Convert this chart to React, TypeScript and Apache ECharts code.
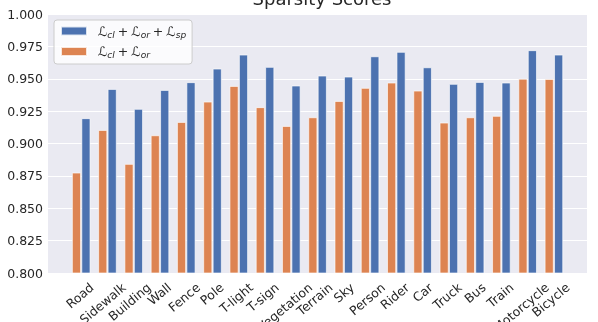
import React, { useEffect, useRef } from 'react';
import * as echarts from 'echarts';

const categories = ['Road', 'Sidewalk', 'Building', 'Wall', 'Fence', 'Pole', 'T-light', 'T-sign', 'Vegetation', 'Terrain', 'Sky', 'Person', 'Rider', 'Car', 'Truck', 'Bus', 'Train', 'Motorcycle', 'Bicycle'];
const withSp = [0.9195, 0.9421, 0.9267, 0.9413, 0.9473, 0.9578, 0.9686, 0.9591, 0.9447, 0.9524, 0.9516, 0.9673, 0.9707, 0.9588, 0.946, 0.9475, 0.947, 0.972, 0.9686];
const withoutSp = [0.8775, 0.9104, 0.8842, 0.9063, 0.9166, 0.9323, 0.9444, 0.928, 0.9135, 0.9202, 0.9328, 0.9429, 0.947, 0.9408, 0.9161, 0.9202, 0.9213, 0.95, 0.9498];

const NAME_SP = 'Lcl + Lor + Lsp';
const NAME_OR = 'Lcl + Lor';
const subs: Record<string, string[]> = {
  [NAME_SP]: ['cl', 'or', 'sp'],
  [NAME_OR]: ['cl', 'or'],
};

const FONT = '"DejaVu Sans", sans-serif';
const TEXT = '#262626';
const ROT = 40;
const AXIS_Y = 273;
const MARGIN = 12.5;

export default function App() {
  const ref = useRef<HTMLDivElement>(null);
  useEffect(() => {
    if (!ref.current) return;
    const chart = echarts.init(ref.current, null, { renderer: 'svg' });
    const rad = (ROT * Math.PI) / 180;
    const cs = Math.cos(rad);
    const sn = Math.sin(rad);
    const ctx = document.createElement('canvas').getContext('2d')!;
    ctx.font = '12.5px "DejaVu Sans"';
    const capH = 9.1;
    const rich: Record<string, any> = {};
    categories.forEach((c, i) => {
      const w = ctx.measureText(c).width;
      // where the label's right end and top sit, relative to its tick
      const rightOff = 0.24 * w + 6;
      const top = 282;
      const dx = rightOff - (w / 2) * cs - (capH / 2) * sn;
      const cy = top + (w / 2) * sn + (capH / 2) * cs;
      const dy = cy - (AXIS_Y + MARGIN);
      const a = dx * cs - dy * sn;
      const b = dx * sn + dy * cs;
      rich['r' + i] = {
        fontSize: 12.5,
        fontFamily: FONT,
        color: TEXT,
        padding: [Math.max(0, 2 * b), Math.max(0, -2 * a), Math.max(0, -2 * b), Math.max(0, 2 * a)],
      };
    });

    const legendRich = {
      L: { fontSize: 13, fontFamily: FONT, color: TEXT, lineHeight: 16 },
      L0: { fontSize: 13, fontFamily: FONT, color: TEXT, lineHeight: 16, padding: [0, 0, 0, 6] },
      s: { fontSize: 9, fontFamily: FONT, fontStyle: 'italic', color: TEXT, lineHeight: 9, verticalAlign: 'bottom' },
      op: { fontSize: 12.5, fontFamily: FONT, color: TEXT, padding: [0, 3, 0, 3] },
    };

    chart.setOption({
      animation: false,
      title: {
        text: 'Sparsity Scores',
        left: 317,
        top: -16,
        textAlign: 'center',
        textStyle: { fontSize: 18, fontWeight: 'normal', color: TEXT, fontFamily: FONT },
      },
      legend: {
        orient: 'vertical',
        left: 54,
        top: 20,
        data: [NAME_SP, NAME_OR],
        icon: 'rect',
        itemWidth: 26,
        itemHeight: 9,
        itemGap: 6,
        padding: [4.5, 6, 4.5, 6],
        backgroundColor: 'rgba(255,255,255,0.8)',
        borderColor: '#cccccc',
        borderWidth: 1,
        borderRadius: 3,
        formatter: (name: string) =>
          subs[name].map((s, k) => `{${k === 0 ? 'L0' : 'L'}|ℒ}{s|${s}}`).join('{op|+}'),
        textStyle: { rich: legendRich },
      },
      grid: {
        left: 48,
        right: 11,
        top: 14,
        bottom: 49,
        show: true,
        backgroundColor: '#EAEAF2',
        borderWidth: 0,
        containLabel: false,
        outerBoundsMode: 'none',
      },
      xAxis: {
        type: 'value',
        min: -1.264,
        max: 19.26,
        axisLine: { show: false },
        axisTick: { show: false },
        splitLine: { show: false },
        axisLabel: {
          customValues: categories.map((_, i) => i),
          formatter: (v: number) => {
            const i = Math.round(v);
            return `{r${i}|${categories[i]}}`;
          },
          rotate: ROT,
          align: 'center',
          verticalAlign: 'middle',
          margin: MARGIN,
          showMinLabel: true,
          showMaxLabel: true,
          hideOverlap: false,
          rich,
        },
      },
      yAxis: {
        type: 'value',
        min: 0.8,
        max: 1.0,
        interval: 0.025,
        axisLine: { show: false },
        axisTick: { show: false },
        splitLine: { lineStyle: { color: '#ffffff', width: 1 } },
        axisLabel: {
          formatter: (v: number) => v.toFixed(3),
          color: TEXT,
          fontSize: 12.5,
          fontFamily: FONT,
          margin: 5,
        },
      },
      series: [
        {
          name: NAME_OR,
          type: 'bar',
          barWidth: 9,
          barGap: '5%',
          itemStyle: { color: '#DD8452', borderColor: 'rgba(255,255,255,0.8)', borderWidth: 0.8 },
          data: categories.map((_, i) => [i, withoutSp[i]]),
        },
        {
          name: NAME_SP,
          type: 'bar',
          barWidth: 9,
          barGap: '5%',
          itemStyle: { color: '#4C72B0', borderColor: 'rgba(255,255,255,0.8)', borderWidth: 0.8 },
          data: categories.map((_, i) => [i, withSp[i]]),
        },
      ],
    });
    return () => chart.dispose();
  }, []);
  return <div ref={ref} style={{ position: 'fixed', left: 0, top: 0, width: 598, height: 322 }} />;
}
